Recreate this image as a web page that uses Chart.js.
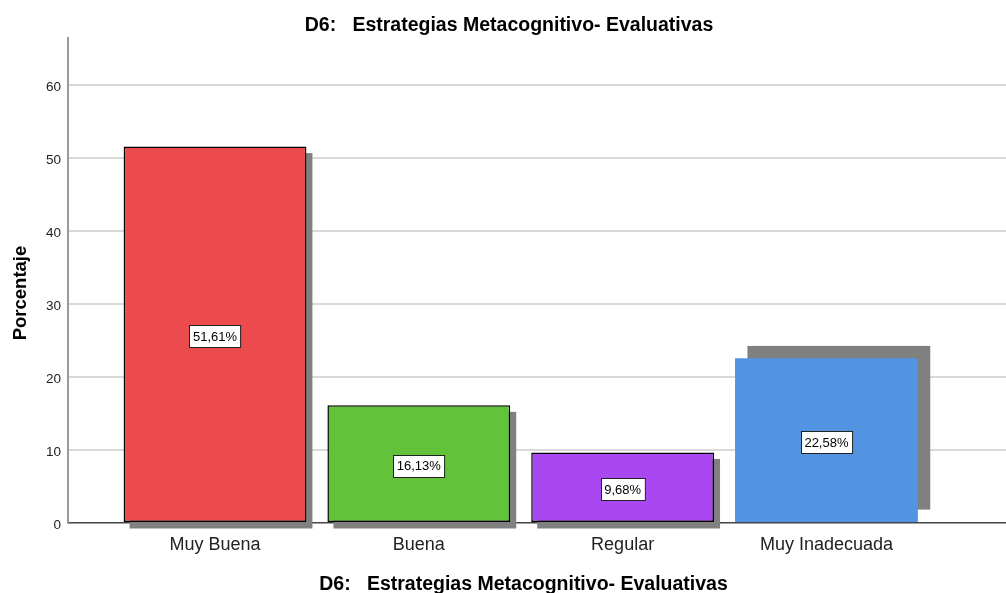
<!DOCTYPE html>
<html>
<head>
<meta charset="utf-8">
<script src="https://cdn.jsdelivr.net/npm/chart.js@4.4.1/dist/chart.umd.min.js"></script>
<style>
  html, body { margin: 0; padding: 0; background: #fff; }
  #wrap { width: 1006px; height: 593px; position: relative; }
</style>
</head>
<body>
<div id="wrap"><canvas id="c"></canvas></div>
<script>
// ---- data ----
const categories = ['Muy Buena', 'Buena', 'Regular', 'Muy Inadecuada'];
const percentages = [51.61, 16.13, 9.68, 22.58];
const valueLabels = ['51,61%', '16,13%', '9,68%', '22,58%'];
const yTicks = [0, 10, 20, 30, 40, 50, 60];
const chartTitle = 'D6:   Estrategias Metacognitivo- Evaluativas';
const xTitle = 'D6:   Estrategias Metacognitivo- Evaluativas';
const yTitle = 'Porcentaje';

// ---- styles ----
const barColors = ['#EC4B4E', '#62C23A', '#A948F1', '#5294E2'];
const barBorderWidths = [1.5, 1.5, 1.5, 0];
const shadowOffsets = [[6, 6.5], [6, 6.5], [6, 6.5], [12.4, -12.4]];
const FONT = '"Liberation Sans", Arial, sans-serif';

const shadowPlugin = {
  id: 'shadows',
  beforeDatasetsDraw(chart) {
    const ctx = chart.ctx;
    const meta = chart.getDatasetMeta(0);
    ctx.save();
    ctx.fillStyle = '#808080';
    meta.data.forEach((bar, i) => {
      const p = bar.getProps(['x', 'y', 'base', 'width'], true);
      const [dx, dy] = shadowOffsets[i];
      ctx.fillRect(p.x - p.width / 2 + dx, p.y + dy, p.width, p.base - p.y);
    });
    ctx.restore();
  }
};

const labelPlugin = {
  id: 'valueBoxes',
  afterDatasetsDraw(chart) {
    const ctx = chart.ctx;
    const meta = chart.getDatasetMeta(0);
    ctx.save();
    ctx.font = '13px ' + FONT;
    ctx.textAlign = 'center';
    ctx.textBaseline = 'middle';
    meta.data.forEach((bar, i) => {
      const p = bar.getProps(['x', 'y', 'base'], true);
      const cy = (p.y + p.base) / 2 + 2;
      const txt = valueLabels[i];
      const w = ctx.measureText(txt).width + 7;
      const h = 22;
      const bx = Math.round(p.x - w / 2) + 0.5;
      const by = Math.round(cy - h / 2) + 0.5;
      ctx.fillStyle = '#ffffff';
      ctx.fillRect(bx, by, w, h);
      ctx.strokeStyle = '#222';
      ctx.lineWidth = 1;
      ctx.strokeRect(bx, by, w, h);
      ctx.fillStyle = '#000';
      ctx.fillText(txt, p.x, cy + 1);
    });
    ctx.restore();
  }
};

const titlePlugin = {
  id: 'titles',
  afterDraw(chart) {
    const ctx = chart.ctx;
    ctx.save();
    ctx.fillStyle = '#000';
    ctx.font = 'bold 19.5px ' + FONT;
    ctx.textAlign = 'center';
    ctx.textBaseline = 'alphabetic';
    ctx.fillText(chartTitle, 509, 31);
    ctx.fillText(xTitle, 523.5, 589.5);
    ctx.translate(25.5, 293);
    ctx.rotate(-Math.PI / 2);
    ctx.font = 'bold 18.5px ' + FONT;
    ctx.fillText(yTitle, 0, 0);
    ctx.restore();
  }
};

new Chart(document.getElementById('c'), {
  type: 'bar',
  data: {
    datasets: [{
      data: percentages.map((v, i) => ({ x: i, y: v })),
      backgroundColor: barColors,
      borderColor: '#000',
      borderWidth: barBorderWidths,
      borderSkipped: false,
      barPercentage: 0.897,
      categoryPercentage: 1.0
    }]
  },
  options: {
    responsive: true,
    maintainAspectRatio: false,
    animation: false,
    layout: { padding: { top: 38, left: 0, right: 0, bottom: 0 } },
    plugins: {
      legend: { display: false },
      title: { display: false },
      tooltip: { enabled: false }
    },
    scales: {
      x: {
        type: 'linear',
        offset: false,
        min: -0.7213,
        max: 3.881,
        afterBuildTicks: s => { s.ticks = categories.map((c, i) => ({ value: i })); },
        afterFit: s => { s.height = 70; },
        grid: { display: false },
        border: { display: true, color: '#444', width: 1.5 },
        ticks: {
          autoSkip: false,
          maxRotation: 0,
          padding: 3,
          color: '#222',
          font: { family: FONT, size: 18 },
          callback: v => categories[v] ?? ''
        }
      },
      y: {
        min: 0,
        max: 66.5,
        afterBuildTicks: s => { s.ticks = yTicks.map(v => ({ value: v })); },
        afterFit: s => { s.width = 68; },
        grid: {
          drawTicks: false,
          lineWidth: 2,
          color: c => (c.tick && c.tick.value === 0) ? 'rgba(0,0,0,0)' : '#d9d9d9'
        },
        border: { display: true, color: '#9a9a9a', width: 2 },
        ticks: {
          padding: 7,
          labelOffset: 2,
          color: '#222',
          font: { family: FONT, size: 13.5 }
        }
      }
    }
  },
  plugins: [shadowPlugin, labelPlugin, titlePlugin]
});
</script>
</body>
</html>
